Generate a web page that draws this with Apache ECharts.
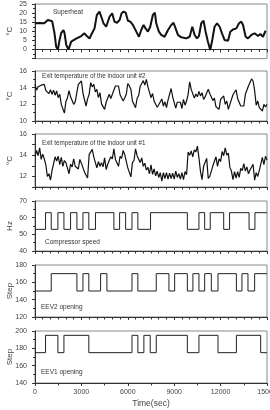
<!DOCTYPE html>
<html lang="en">
<head>
    <meta charset="UTF-8">
    <title>Superheat and valves</title>
    <script src="https://cdn.jsdelivr.net/npm/echarts@6/dist/echarts.min.js"></script>
    <style>
        html, body { margin: 0; padding: 0; background: #fff; }
        #main { width: 270px; height: 410px; }
    </style>
</head>
<body>
<div id="main"></div>
<script>
    // superheat: time (s) and value (°C)
    var shTime = [0, 290, 600, 830, 940, 1110, 1260, 1370, 1480, 1585, 1690, 1840, 1910, 2020, 2170, 2280, 2340, 2450, 2660, 2990, 3200, 3350, 3530, 3630, 3850, 4000, 4170, 4280, 4430, 4600, 4820, 4990, 5140, 5300, 5470, 5600, 5730, 5860, 6010, 6160, 6330, 6550, 6720, 6870, 7020, 7150, 7300, 7450, 7620, 7750, 7840, 8010, 8160, 8380, 8600, 8810, 8960, 9090, 9240, 9460, 9780, 10000, 10170, 10320, 10470, 10600, 10750, 10900, 11030, 11180, 11330, 11460, 11610, 11770, 11940, 12090, 12260, 12480, 12630, 12800, 13020, 13190, 13340, 13450, 13620, 13770, 13990, 14200, 14420, 14570, 14740, 14910];
    var shValue = [14.4, 14.5, 14.4, 16.2, 17, 15.5, 9, 1.5, 0, 5, 9, 10.7, 9, 2.5, 0, 0.3, 4.3, 5.2, 6, 7.4, 8.9, 7.4, 6, 8, 11.6, 19, 20.8, 19.9, 14.4, 12.5, 18, 19.9, 15.3, 14.7, 16.2, 19.9, 20.8, 20.3, 15.8, 15.3, 13.5, 9.8, 7, 10.7, 13.5, 11.6, 9.8, 12.5, 19, 20.2, 14.4, 9.8, 8, 7, 10.7, 13.5, 14.7, 11.6, 8, 6.7, 6.1, 7, 12.5, 8, 6.1, 7.4, 14.4, 15.8, 9.8, 4.3, -0.3, 5.2, 12.5, 14.4, 12.5, 8.9, 5.2, 4.8, 9.8, 11, 11.6, 14.4, 15.3, 13.5, 7, 6.1, 8, 8.9, 7.4, 8.5, 7, 10.3];

    // indoor unit exit temperatures, one reading every 100 s from 0 to 15000 s
    var sampleStep = 100;
    var unit2Value = [14.4, 13.7, 14.1, 14.0, 14.3, 14.1, 14.4, 13.65, 13.85, 13.3, 13.75, 13.2, 13.7, 13.1, 13.6, 12.8, 13.2, 12.0, 11.9, 10.95,
        12.35, 12.8, 13.65, 12.9, 13.1, 12.0, 12.3, 12.4, 14.4, 14.2, 14.8, 13.35, 12.55, 11.8, 12.65, 13.2, 14.6, 14.1, 14.4, 13.5,
        13.8, 12.8, 13.4, 12.05, 12.15, 11.4, 12.25, 12.1, 13.2, 12.7, 13.2, 13.0, 14.2, 14.1, 14.2, 13.15, 13.15, 12.4, 12.75, 13.2,
        14.5, 14.2, 13.8, 12.4, 12.2, 11.6, 12.7, 13.05, 14.15, 14.2, 14.85, 14.3, 15.0, 14.1, 14.1, 12.8, 13.3, 12.4, 12.4, 11.65,
        11.95, 12.0, 12.65, 11.8, 12.3, 11.6, 12.5, 12.5, 13.9, 12.9, 12.8, 11.55, 12.25, 12.2, 12.25, 11.5, 12.6, 11.9, 12.4, 13.2,
        14.7, 13.8, 13.6, 12.75, 13.25, 12.9, 13.55, 13.0, 13.4, 12.6, 12.9, 12.8, 13.8, 13.3, 13.3, 12.45, 12.75, 11.7, 11.75, 11.4,
        12.6, 12.4, 13.0, 12.0, 12.4, 11.4, 12.0, 11.85, 13.15, 13.2, 13.75, 12.7, 12.8, 11.8, 12.0, 11.8, 13.2, 13.2, 14.2, 14.25,
        15.05, 14.8, 13.65, 11.9, 12.4, 11.6, 11.8, 11.2, 12.0, 11.7, 12.0];
    var unit1Value = [13.9, 14.45, 13.95, 14.7, 13.6, 14.1, 13.65, 13.1, 12.0, 12.25, 11.65, 12.55, 12.7, 13.85, 13.45, 13.9, 13.1, 13.8, 12.95, 13.5,
        13.3, 13.35, 12.25, 13.15, 12.9, 13.65, 12.95, 13.0, 12.7, 13.6, 13.25, 13.1, 12.4, 12.55, 11.85, 14.05, 14.0, 14.55, 13.85, 13.9,
        12.8, 13.4, 12.95, 13.3, 12.9, 13.75, 12.65, 13.15, 13.0, 13.85, 13.65, 14.6, 13.6, 13.6, 12.95, 13.9, 13.7, 14.45, 14.05, 14.05,
        12.8, 12.75, 11.95, 13.3, 13.5, 14.6, 13.95, 14.0, 13.3, 13.75, 12.95, 13.25, 12.6, 12.85, 12.25, 13.1, 12.2, 12.7, 12.05, 12.5,
        11.9, 12.35, 11.55, 12.35, 11.8, 12.35, 11.75, 12.3, 11.8, 12.3, 11.75, 12.5, 11.9, 12.25, 11.75, 12.35, 11.7, 12.45, 12.15, 14.3,
        14.0, 14.4, 13.85, 14.5, 14.3, 14.85, 13.75, 12.45, 11.7, 12.95, 13.05, 13.7, 11.8, 12.0, 11.85, 13.0, 13.1, 13.85, 12.95, 13.65,
        13.4, 14.35, 13.95, 14.7, 14.0, 14.2, 12.85, 12.5, 11.7, 12.45, 11.85, 12.45, 11.9, 12.75, 12.55, 13.2, 12.5, 12.9, 12.25, 12.6,
        12.6, 13.15, 11.65, 12.35, 12.0, 12.55, 12.65, 13.8, 13.1, 13.9, 13.55];

    // step signals: time of each change (s) and the new level
    var compTime = [0, 680, 1050, 1480, 1870, 2300, 2710, 3100, 3480, 3910, 5100, 5470, 5860, 6270, 6650, 7470, 9850, 10600, 10970, 11330, 12200, 12580, 13840, 14220, 15000];
    var compValue = [53, 63, 53, 63, 53, 63, 53, 63, 53, 63, 53, 63, 53, 63, 53, 63, 53, 63, 53, 63, 53, 63, 53, 63, 63];

    var eev2Time = [0, 1050, 2710, 3100, 3480, 4240, 4650, 6270, 6650, 7840, 8660, 9030, 9850, 10210, 10600, 10970, 11400, 11830, 13020, 13380, 13770, 14200, 15000];
    var eev2Value = [150, 170, 150, 170, 150, 170, 150, 170, 150, 170, 150, 170, 150, 170, 150, 170, 150, 170, 150, 170, 150, 170, 170];

    var eev1Time = [0, 680, 1480, 1870, 3480, 6270, 6650, 7040, 7450, 7840, 9850, 10600, 11830, 13020, 14590, 15000];
    var eev1Value = [175, 195, 175, 195, 175, 195, 175, 195, 175, 195, 175, 195, 175, 195, 175, 175];

    var xTicks = [0, 3000, 6000, 9000, 12000, 15000];

    function pairs(t, v) {
        var out = [];
        for (var i = 0; i < v.length; i++) {
            out.push([t[i], v[i]]);
        }
        return out;
    }
    function sampled(v) {
        var out = [];
        for (var i = 0; i < v.length; i++) {
            out.push([i * sampleStep, v[i]]);
        }
        return out;
    }

    var chart = echarts.init(document.getElementById('main'), null, {renderer: 'canvas'});

    var FONT = 'Liberation Sans';
    var LEFT = 35, RIGHT = 3;
    // panel boxes, top and height in px
    var panels = [
        {top: 4, height: 54.6},
        {top: 71, height: 50},
        {top: 134, height: 53},
        {top: 201, height: 50},
        {top: 265, height: 52},
        {top: 331, height: 52}
    ];

    var grids = [], xAxes = [], yAxes = [];
    panels.forEach(function (p, i) {
        grids.push({
            left: LEFT, right: RIGHT, top: p.top, height: p.height,
            outerBoundsMode: 'none', containLabel: false,
            show: true, borderColor: '#8a8a8a', borderWidth: 1, backgroundColor: 'transparent'
        });
        var last = i === panels.length - 1;
        xAxes.push({
            type: 'value', gridIndex: i, min: 0, max: 15000, interval: 3000,
            axisLine: {lineStyle: {color: '#333', width: 1}},
            axisTick: {show: true, length: 3, lineStyle: {color: '#333'}},
            minorTick: {show: true, splitNumber: last ? 2 : 6, length: 2.5, lineStyle: {color: '#333'}},
            splitLine: {show: false},
            axisLabel: {
                show: last, fontSize: 7, color: '#444', fontFamily: FONT, margin: 6,
                showMaxLabel: true, hideOverlap: false,
                formatter: function (v) { return xTicks.indexOf(v) >= 0 ? String(v) : ''; }
            },
            name: last ? 'Time(sec)' : '',
            nameLocation: 'middle', nameGap: 16, nameMoveOverlap: false,
            nameTextStyle: {fontSize: 8.5, color: '#444', fontFamily: FONT}
        });
    });

    var yCommon = function (i, min, max, interval, name, fmt, minor) {
        return {
            type: 'value', gridIndex: i, min: min, max: max, interval: interval,
            axisLine: {show: true, lineStyle: {color: '#333', width: 1}},
            axisTick: {show: true, length: 3, lineStyle: {color: '#333'}},
            minorTick: {show: true, splitNumber: minor, length: 2, lineStyle: {color: '#333'}},
            splitLine: {show: false},
            axisLabel: {fontSize: 7, color: '#444', fontFamily: FONT, margin: 8, formatter: fmt},
            name: name, nameLocation: 'middle', nameGap: 21, nameRotate: 90, nameMoveOverlap: false,
            nameTextStyle: {fontSize: 8, color: '#444', fontFamily: FONT}
        };
    };
    yAxes.push(yCommon(0, -5, 25, 5, '\u00b0C', function (v) { return v < 0 ? '' : v; }, 2));
    yAxes.push(yCommon(1, 10, 16, 2, '\u00b0C', null, 2));
    yAxes.push(yCommon(2, 11, 16, 1, '\u00b0C', function (v) { return v % 2 === 0 ? v : ''; }, 1));
    yAxes.push(yCommon(3, 40, 70, 10, 'Hz', null, 2));
    yAxes.push(yCommon(4, 120, 180, 20, 'Step', null, 2));
    yAxes.push(yCommon(5, 140, 200, 20, 'Step', null, 2));

    var thick = {color: '#111', width: 2};
    var noisy = {color: '#111', width: 1.2};
    var stepLine = {color: '#222', width: 1};

    var option = {
        animation: false,
        backgroundColor: '#fff',
        grid: grids,
        xAxis: xAxes,
        yAxis: yAxes,
        graphic: [
            {type: 'text', left: 53, top: 9, style: {text: 'Superheat', fontSize: 6.5, fill: '#333', fontFamily: FONT}},
            {type: 'text', left: 42, top: 73, style: {text: 'Exit temperature of the indoor unit #2', fontSize: 6.3, fill: '#333', fontFamily: FONT}},
            {type: 'text', left: 42, top: 140, style: {text: 'Exit temperature of the indoor unit #1', fontSize: 6.3, fill: '#333', fontFamily: FONT}},
            {type: 'text', left: 45, top: 239, style: {text: 'Compressor speed', fontSize: 6.5, fill: '#333', fontFamily: FONT}},
            {type: 'text', left: 41, top: 304, style: {text: 'EEV2 opening', fontSize: 6.5, fill: '#333', fontFamily: FONT}},
            {type: 'text', left: 41, top: 369, style: {text: 'EEV1 opening', fontSize: 6.5, fill: '#333', fontFamily: FONT}}
        ],
        series: [
            {type: 'line', xAxisIndex: 0, yAxisIndex: 0, data: pairs(shTime, shValue), showSymbol: false, lineStyle: thick},
            {type: 'line', xAxisIndex: 1, yAxisIndex: 1, data: sampled(unit2Value), showSymbol: false, lineStyle: noisy},
            {type: 'line', xAxisIndex: 2, yAxisIndex: 2, data: sampled(unit1Value), showSymbol: false, lineStyle: noisy},
            {type: 'line', xAxisIndex: 3, yAxisIndex: 3, data: pairs(compTime, compValue), step: 'end', showSymbol: false, lineStyle: stepLine},
            {type: 'line', xAxisIndex: 4, yAxisIndex: 4, data: pairs(eev2Time, eev2Value), step: 'end', showSymbol: false, lineStyle: stepLine},
            {type: 'line', xAxisIndex: 5, yAxisIndex: 5, data: pairs(eev1Time, eev1Value), step: 'end', showSymbol: false, lineStyle: stepLine}
        ]
    };
    chart.setOption(option);
</script>
</body>
</html>
